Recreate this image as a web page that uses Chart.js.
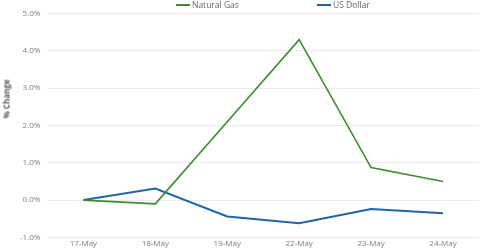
<!DOCTYPE html>
<html>
<head>
<meta charset="utf-8">
<script src="https://cdn.jsdelivr.net/npm/chart.js@4"></script>
<style>
  html, body { margin: 0; padding: 0; background: #fff; }
  #wrap { position: relative; width: 480px; height: 251px; }
  #legend { position: absolute; top: 0; left: 0; width: 480px; height: 12px;
            font: 8.5px "Open Sans", sans-serif; color: #666; }
  .item { position: absolute; top: -1px; white-space: nowrap; line-height: 12px; }
  .swatch { display: inline-block; width: 14px; height: 2px; vertical-align: middle; margin-right: 2px; position: relative; top: -1px; }
  #tituloY { position: absolute; left: 6px; top: 99px; transform: translate(-50%, -50%) rotate(-90deg);
             font: bold 8px "Open Sans", sans-serif; color: #595959; white-space: nowrap; }
</style>
</head>
<body>
<div id="wrap">
  <canvas id="grafica" width="480" height="251"></canvas>
  <div id="legend"></div>
  <div id="tituloY">% Change</div>
</div>
<script>
// DATOS
const categorias = ['17-May', '18-May', '19-May', '22-May', '23-May', '24-May'];
const gasNatural = [0.0, -0.1, 2.1, 4.3, 0.87, 0.5];
const dolarUS = [0.0, 0.31, -0.44, -0.62, -0.24, -0.35];
const nombresSeries = ['Natural Gas', 'US Dollar'];
const coloresSeries = ['#3d8b2f', '#1f65a6'];

// LEYENDA (HTML)
const posLeyenda = [176, 317];
let leyenda = "";
nombresSeries.forEach((n, i) => {
    leyenda += `<span class="item" style="left:${posLeyenda[i]}px"><span class="swatch" style="background:${coloresSeries[i]}"></span>${n}</span>`;
});
document.getElementById("legend").innerHTML = leyenda;

// GRÁFICA
const ctx = document.getElementById('grafica').getContext('2d');
new Chart(ctx, {
    type: 'line',
    data: {
        labels: categorias,
        datasets: [
            { label: nombresSeries[0], data: gasNatural, borderColor: coloresSeries[0], borderWidth: 1.6, pointRadius: 0, tension: 0, fill: false },
            { label: nombresSeries[1], data: dolarUS, borderColor: coloresSeries[1], borderWidth: 2, pointRadius: 0, tension: 0, fill: false }
        ]
    },
    options: {
        responsive: false,
        animation: false,
        layout: { padding: { top: 13.5, right: 1, left: 13, bottom: 0 } },
        plugins: { legend: { display: false }, tooltip: { enabled: false } },
        scales: {
            x: {
                offset: true,
                grid: { display: false, drawTicks: false },
                border: { display: false },
                ticks: { color: '#7f7f7f', font: { family: 'Open Sans', size: 8 }, padding: 2, maxRotation: 0 }
            },
            y: {
                min: -1, max: 5,
                grid: { color: '#ebebeb', lineWidth: 1, drawTicks: false },
                border: { display: false },
                ticks: {
                    stepSize: 1, color: '#7f7f7f', padding: 7,
                    font: { family: 'Open Sans', size: 8 },
                    callback: v => v.toFixed(1) + '%'
                },
                title: { display: false }
            }
        }
    }
});
</script>
</body>
</html>
